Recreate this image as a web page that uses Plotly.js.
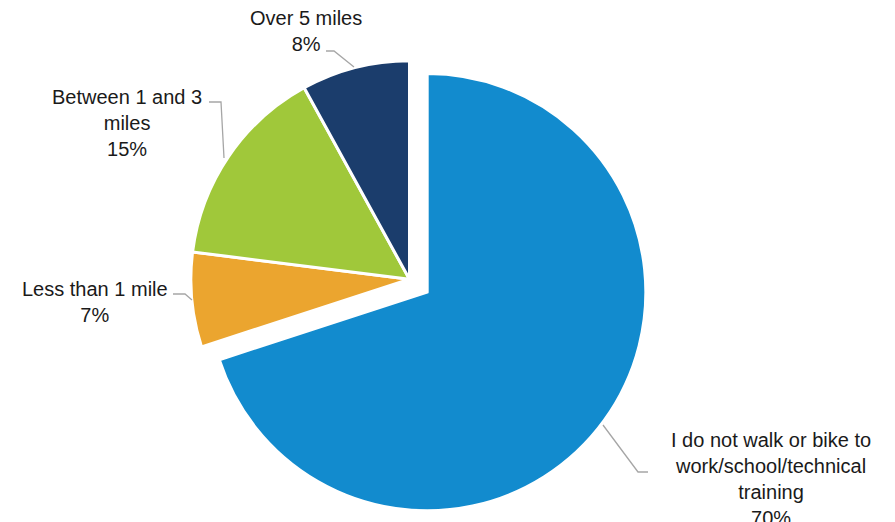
<!DOCTYPE html>
<html>
<head>
<meta charset="utf-8">
<script src="https://cdn.plot.ly/plotly-3.0.1.min.js"></script>
<style>html,body{margin:0;padding:0;background:#fff;}#chart{width:895px;height:522px;}</style>
</head>
<body>
<div id="chart"></div>
<script>
var categories = ["I do not walk or bike to work/school/technical training", "Less than 1 mile", "Between 1 and 3 miles", "Over 5 miles"];
var values = [70, 7, 15, 8];
var labelText = [
  "I do not walk or bike to<br>work/school/technical<br>training<br>70%",
  "Less than 1 mile<br>7%",
  "Between 1 and 3<br>miles<br>15%",
  "Over 5 miles<br>8%"
];
var colors = ["#128BCE", "#EBA52F", "#A0C83A", "#1B3D6C"];
var pulls = [0.1, 0, 0, 0];

var W = 895, H = 522;
function px(x) { return x / W; }
function py(y) { return 1 - y / H; }

// label placement (pixels) and leader lines (pixels)
var labelPos = [[771, 479], [95, 302], [127, 123], [306, 31]];
var leaders = [
  [[648, 472], [638, 472], [603, 425]],
  [[173, 294], [185, 294], [192, 300]],
  [[209, 102], [221, 102], [224, 158]],
  [[326, 51], [334, 51], [354, 67]]
];

var annotations = labelText.map(function (t, i) {
  return {
    text: t, xref: "paper", yref: "paper",
    x: px(labelPos[i][0]), y: py(labelPos[i][1]),
    xanchor: "center", yanchor: "middle", align: "center", showarrow: false,
    font: {family: "Liberation Sans, Arial, sans-serif", size: 20, color: "#1a1a1a"}
  };
});

var shapes = leaders.map(function (pts) {
  var d = pts.map(function (p, j) { return (j ? "L" : "M") + px(p[0]) + "," + py(p[1]); }).join(" ");
  return {type: "path", xref: "paper", yref: "paper", path: d, line: {color: "#A6A6A6", width: 1.3}};
});

var trace = {
  type: "pie",
  labels: categories,
  values: values,
  sort: false,
  direction: "clockwise",
  rotation: 0,
  pull: pulls,
  textinfo: "none",
  hoverinfo: "label+percent",
  marker: {colors: colors, line: {color: "#ffffff", width: 3}},
  domain: {x: [px(169), px(650)], y: [py(519.8), py(38.8)]}
};

var layout = {
  width: W, height: H,
  margin: {l: 0, r: 0, t: 0, b: 0},
  paper_bgcolor: "#ffffff",
  showlegend: false,
  annotations: annotations,
  shapes: shapes
};

Plotly.newPlot("chart", [trace], layout, {displayModeBar: false, staticPlot: true});
</script>
</body>
</html>
